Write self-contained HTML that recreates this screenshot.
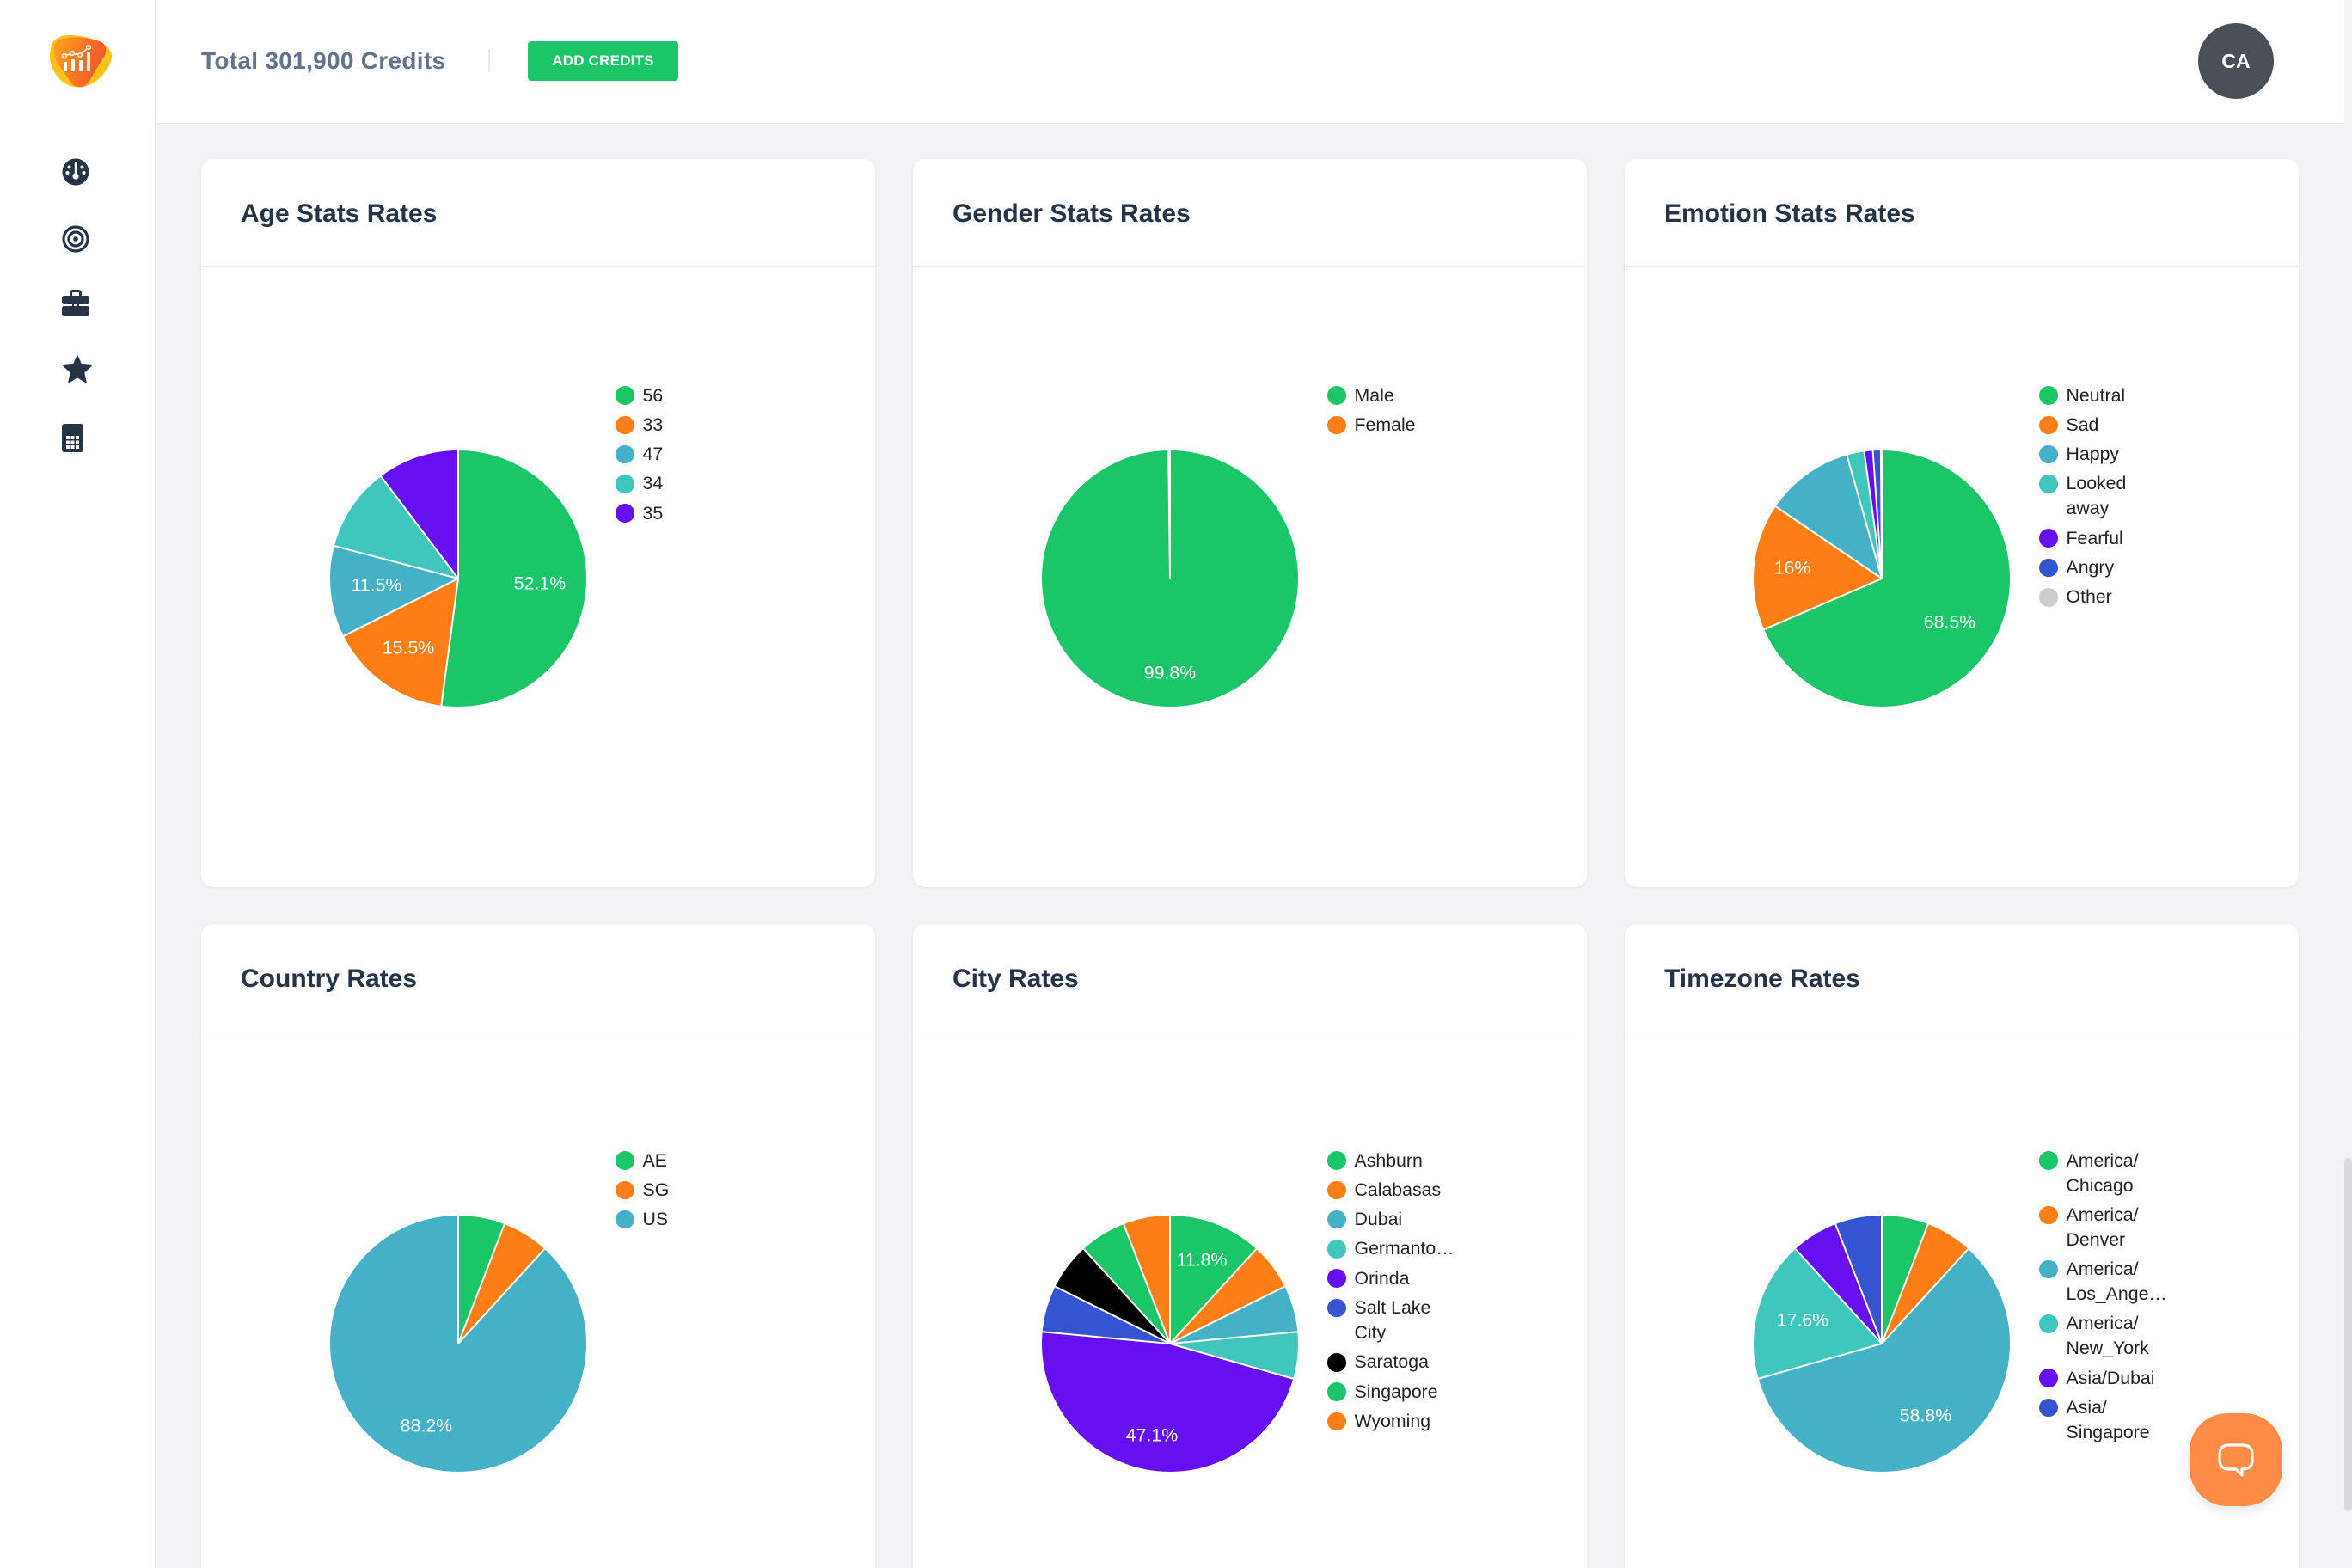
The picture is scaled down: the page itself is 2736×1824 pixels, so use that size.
<!DOCTYPE html>
<html><head><meta charset="utf-8">
<style>
*{margin:0;padding:0;box-sizing:border-box}
html,body{width:2736px;height:1824px;overflow:hidden;background:#f2f3f5;font-family:"Liberation Sans",Arial,sans-serif}
#root{position:relative;width:2736px;height:1824px;overflow:hidden;background:#f2f3f5}
#header{position:absolute;left:0;top:0;width:2727px;height:144px;background:#fff;border-bottom:1px solid #e3e5e8}
#sidebar{position:absolute;left:0;top:0;width:181px;height:1824px;background:#fff;border-right:1px solid #e6e7ea;z-index:2}
.credits{position:absolute;left:234px;top:56px;font-size:28px;line-height:30px;font-weight:bold;color:#64728a;letter-spacing:0.3px;white-space:nowrap}
.vdiv{position:absolute;left:568px;top:57px;width:2px;height:27px;background:#e6e8ec}
.btn{position:absolute;left:614px;top:48px;width:175px;height:46px;background:#1bc668;border-radius:4px;color:#fff;font-weight:bold;font-size:17px;line-height:46px;text-align:center;letter-spacing:0.2px}
.avatar{position:absolute;left:2557px;top:27px;width:88px;height:88px;border-radius:50%;background:#4a4f57;color:#fff;font-weight:bold;font-size:23px;line-height:88px;text-align:center}
.card{position:absolute;width:784px;background:#fff;border-radius:14px;box-shadow:0 1px 3px rgba(0,0,0,.07)}
.card h2{position:absolute;left:46px;top:49px;font-size:30px;line-height:30px;font-weight:bold;color:#263445;white-space:nowrap}
.card .hd{position:absolute;left:0;right:0;top:125px;height:1px;background:#e9ebee}
.pie{position:absolute;left:150px;top:339px;width:298px;height:298px;border-radius:50%}
.sep{position:absolute;left:148px;top:0;width:2px;height:149px;background:#fff;transform-origin:50% 100%}
.lbl{position:absolute;color:#fff;font-size:21.3px;line-height:1;transform:translate(-50%,-50%);white-space:nowrap}
.legend{position:absolute;left:482px;top:260.5px}
.li{display:flex;margin-bottom:5.3px}
.dot{width:21.5px;height:21.5px;border-radius:50%;margin-top:3.75px;flex:none}
.lt{margin-left:10px;font-size:21.3px;line-height:29px;color:#222;white-space:nowrap}
.help{position:absolute;left:2547px;top:1644px;width:108px;height:108px;border-radius:44px;background:#fe8c46;box-shadow:0 4px 14px rgba(0,0,0,.12)}
.scroll{position:absolute;left:2727px;top:1347px;width:9px;height:411px;border-radius:5px;background:#d9dadd}
</style></head>
<body>
<div id="root">
<div id="header">
  <div class="credits">Total 301,900 Credits</div>
  <div class="vdiv"></div>
  <div class="btn">ADD CREDITS</div>
  <div class="avatar">CA</div>
</div>
<div id="sidebar">
  <svg style="position:absolute;left:52px;top:38px" width="82" height="66" viewBox="0 0 82 66">
    <defs>
      <linearGradient id="lg" x1="0" y1="0" x2="1" y2="0.3">
        <stop offset="0" stop-color="#ffa41b"/><stop offset="1" stop-color="#f0582a"/>
      </linearGradient>
    </defs>
    <path d="M8 14 Q14 2 32 3 Q60 5 74 18 Q82 26 74 40 Q62 60 44 63 Q26 66 14 50 Q2 34 8 14 Z" fill="#ffc21a"/>
    <path d="M16 8 Q40 2 64 10 Q74 14 70 26 L52 56 Q44 68 32 60 L14 34 Q6 16 16 8 Z" fill="url(#lg)"/>
    <g fill="#fff">
      <rect x="22" y="34" width="4" height="11"/>
      <rect x="31" y="31" width="4" height="14"/>
      <rect x="40" y="32" width="4" height="13"/>
      <rect x="49" y="23" width="4" height="22"/>
    </g>
    <polyline points="23,27 32,24 41,26 51,17" fill="none" stroke="#fff" stroke-width="1.6"/>
    <g fill="#f7922a" stroke="#fff" stroke-width="1.4">
      <circle cx="23" cy="27" r="2.3"/><circle cx="32" cy="24" r="2.3"/><circle cx="41" cy="26" r="2.3"/><circle cx="51" cy="17" r="2.3"/>
    </g>
  </svg>
  <svg style="position:absolute;left:72px;top:184px" width="32" height="32" viewBox="0 0 32 32">
    <circle cx="16" cy="16" r="15.5" fill="#263445"/>
    <rect x="14.8" y="4" width="2.4" height="15" fill="#fff"/>
    <circle cx="16" cy="21" r="3.6" fill="#fff"/>
    <circle cx="8.5" cy="10.5" r="2" fill="#fff"/><circle cx="23.5" cy="10.5" r="2" fill="#fff"/>
    <circle cx="6.5" cy="17" r="2" fill="#fff"/><circle cx="25.5" cy="17" r="2" fill="#fff"/>
  </svg>
  <svg style="position:absolute;left:72px;top:262px" width="32" height="32" viewBox="0 0 32 32">
    <circle cx="16" cy="16" r="14" fill="none" stroke="#263445" stroke-width="3.2"/>
    <circle cx="16" cy="16" r="8" fill="none" stroke="#263445" stroke-width="3.2"/>
    <circle cx="16" cy="16" r="2.8" fill="#263445"/>
  </svg>
  <svg style="position:absolute;left:72px;top:337px" width="32" height="32" viewBox="0 0 32 32">
    <rect x="10.5" y="1.5" width="11" height="7" rx="2" fill="none" stroke="#263445" stroke-width="3"/>
    <rect x="0" y="7" width="32" height="10" rx="2.5" fill="#263445"/>
    <rect x="0" y="19" width="32" height="12" rx="2.5" fill="#263445"/>
    <rect x="12" y="15" width="8" height="6" fill="#263445"/>
    <rect x="14" y="17" width="4" height="2" fill="#fff"/>
  </svg>
  <svg style="position:absolute;left:73px;top:413px" width="34" height="34" viewBox="0 0 34 34">
    <polygon points="17,1 21.6,11.6 33,12.6 24.4,20.2 27,31.6 17,25.6 7,31.6 9.6,20.2 1,12.6 12.4,11.6" fill="#263445" stroke="#263445" stroke-width="1.5" stroke-linejoin="round"/>
  </svg>
  <svg style="position:absolute;left:72px;top:493px" width="25" height="33" viewBox="0 0 25 33">
    <rect x="0" y="0" width="25" height="33" rx="3" fill="#263445"/>
    <g fill="#fff">
      <rect x="5" y="14" width="4" height="4"/><rect x="10.5" y="14" width="4" height="4"/><rect x="16" y="14" width="4" height="4"/>
      <rect x="5" y="19.5" width="4" height="4"/><rect x="10.5" y="19.5" width="4" height="4"/><rect x="16" y="19.5" width="4" height="4"/>
      <rect x="5" y="25" width="4" height="4"/><rect x="10.5" y="25" width="4" height="4"/><rect x="16" y="25" width="4" height="4"/>
    </g>
  </svg>
</div>

<div class="card" style="left:234px;top:185px;height:847px">
  <h2>Age Stats Rates</h2><div class="hd"></div>
  <div class="pie" style="background:conic-gradient(#1bc668 0 52.1%,#fd7e16 0 67.6%,#44b1c6 0 79.1%,#3fc7bd 0 89.7%,#6610f2 0)">
    <div class="sep" style="transform:rotate(0deg)"></div>
    <div class="sep" style="transform:rotate(187.56deg)"></div>
    <div class="sep" style="transform:rotate(243.36deg)"></div>
    <div class="sep" style="transform:rotate(284.76deg)"></div>
    <div class="sep" style="transform:rotate(322.9deg)"></div>
  </div>
  <div class="lbl" style="left:394px;top:494px">52.1%</div>
  <div class="lbl" style="left:241px;top:569px">15.5%</div>
  <div class="lbl" style="left:204px;top:496px">11.5%</div>
  <div class="legend">
    <div class="li"><div class="dot" style="background:#1bc668"></div><div class="lt">56</div></div>
    <div class="li"><div class="dot" style="background:#fd7e16"></div><div class="lt">33</div></div>
    <div class="li"><div class="dot" style="background:#44b1c6"></div><div class="lt">47</div></div>
    <div class="li"><div class="dot" style="background:#3fc7bd"></div><div class="lt">34</div></div>
    <div class="li"><div class="dot" style="background:#6610f2"></div><div class="lt">35</div></div>
  </div>
</div>

<div class="card" style="left:1062px;top:185px;height:847px">
  <h2>Gender Stats Rates</h2><div class="hd"></div>
  <div class="pie" style="background:conic-gradient(#1bc668 0 99.8%,#fd7e16 0)">
    <div class="sep" style="transform:rotate(0deg)"></div>
    <div class="sep" style="transform:rotate(359.3deg)"></div>
  </div>
  <div class="lbl" style="left:299px;top:598px">99.8%</div>
  <div class="legend">
    <div class="li"><div class="dot" style="background:#1bc668"></div><div class="lt">Male</div></div>
    <div class="li"><div class="dot" style="background:#fd7e16"></div><div class="lt">Female</div></div>
  </div>
</div>

<div class="card" style="left:1890px;top:185px;height:847px">
  <h2>Emotion Stats Rates</h2><div class="hd"></div>
  <div class="pie" style="background:conic-gradient(#1bc668 0 68.5%,#fd7e16 0 84.5%,#44b1c6 0 95.6%,#3fc7bd 0 97.8%,#6610f2 0 98.9%,#3555d0 0 99.9%,#cccccc 0)">
    <div class="sep" style="transform:rotate(0deg)"></div>
    <div class="sep" style="transform:rotate(246.6deg)"></div>
    <div class="sep" style="transform:rotate(304.2deg)"></div>
    <div class="sep" style="transform:rotate(344.2deg)"></div>
    <div class="sep" style="transform:rotate(352.1deg)"></div>
    <div class="sep" style="transform:rotate(356deg)"></div>
    <div class="sep" style="transform:rotate(359.6deg)"></div>
  </div>
  <div class="lbl" style="left:195px;top:476px">16%</div>
  <div class="lbl" style="left:378px;top:539px">68.5%</div>
  <div class="legend">
    <div class="li"><div class="dot" style="background:#1bc668"></div><div class="lt">Neutral</div></div>
    <div class="li"><div class="dot" style="background:#fd7e16"></div><div class="lt">Sad</div></div>
    <div class="li"><div class="dot" style="background:#44b1c6"></div><div class="lt">Happy</div></div>
    <div class="li"><div class="dot" style="background:#3fc7bd"></div><div class="lt">Looked<br>away</div></div>
    <div class="li"><div class="dot" style="background:#6610f2"></div><div class="lt">Fearful</div></div>
    <div class="li"><div class="dot" style="background:#3555d0"></div><div class="lt">Angry</div></div>
    <div class="li"><div class="dot" style="background:#cccccc"></div><div class="lt">Other</div></div>
  </div>
</div>

<div class="card" style="left:234px;top:1075px;height:780px">
  <h2>Country Rates</h2><div class="hd"></div>
  <div class="pie" style="background:conic-gradient(#1bc668 0 5.88%,#fd7e16 0 11.76%,#44b1c6 0)">
    <div class="sep" style="transform:rotate(0deg)"></div>
    <div class="sep" style="transform:rotate(21.18deg)"></div>
    <div class="sep" style="transform:rotate(42.35deg)"></div>
  </div>
  <div class="lbl" style="left:262px;top:584px">88.2%</div>
  <div class="legend">
    <div class="li"><div class="dot" style="background:#1bc668"></div><div class="lt">AE</div></div>
    <div class="li"><div class="dot" style="background:#fd7e16"></div><div class="lt">SG</div></div>
    <div class="li"><div class="dot" style="background:#44b1c6"></div><div class="lt">US</div></div>
  </div>
</div>

<div class="card" style="left:1062px;top:1075px;height:780px">
  <h2>City Rates</h2><div class="hd"></div>
  <div class="pie" style="background:conic-gradient(#1bc668 0 11.76%,#fd7e16 0 17.65%,#44b1c6 0 23.53%,#3fc7bd 0 29.41%,#6610f2 0 76.47%,#3555d0 0 82.35%,#000000 0 88.24%,#1bc668 0 94.12%,#fd7e16 0)">
    <div class="sep" style="transform:rotate(0deg)"></div>
    <div class="sep" style="transform:rotate(42.35deg)"></div>
    <div class="sep" style="transform:rotate(63.53deg)"></div>
    <div class="sep" style="transform:rotate(84.71deg)"></div>
    <div class="sep" style="transform:rotate(105.88deg)"></div>
    <div class="sep" style="transform:rotate(275.29deg)"></div>
    <div class="sep" style="transform:rotate(296.47deg)"></div>
    <div class="sep" style="transform:rotate(317.65deg)"></div>
    <div class="sep" style="transform:rotate(338.82deg)"></div>
  </div>
  <div class="lbl" style="left:336px;top:391px">11.8%</div>
  <div class="lbl" style="left:278px;top:595px">47.1%</div>
  <div class="legend">
    <div class="li"><div class="dot" style="background:#1bc668"></div><div class="lt">Ashburn</div></div>
    <div class="li"><div class="dot" style="background:#fd7e16"></div><div class="lt">Calabasas</div></div>
    <div class="li"><div class="dot" style="background:#44b1c6"></div><div class="lt">Dubai</div></div>
    <div class="li"><div class="dot" style="background:#3fc7bd"></div><div class="lt">Germanto…</div></div>
    <div class="li"><div class="dot" style="background:#6610f2"></div><div class="lt">Orinda</div></div>
    <div class="li"><div class="dot" style="background:#3555d0"></div><div class="lt">Salt Lake<br>City</div></div>
    <div class="li"><div class="dot" style="background:#000000"></div><div class="lt">Saratoga</div></div>
    <div class="li"><div class="dot" style="background:#1bc668"></div><div class="lt">Singapore</div></div>
    <div class="li"><div class="dot" style="background:#fd7e16"></div><div class="lt">Wyoming</div></div>
  </div>
</div>

<div class="card" style="left:1890px;top:1075px;height:780px">
  <h2>Timezone Rates</h2><div class="hd"></div>
  <div class="pie" style="background:conic-gradient(#1bc668 0 5.88%,#fd7e16 0 11.76%,#44b1c6 0 70.59%,#3fc7bd 0 88.24%,#6610f2 0 94.12%,#3555d0 0)">
    <div class="sep" style="transform:rotate(0deg)"></div>
    <div class="sep" style="transform:rotate(21.18deg)"></div>
    <div class="sep" style="transform:rotate(42.35deg)"></div>
    <div class="sep" style="transform:rotate(254.12deg)"></div>
    <div class="sep" style="transform:rotate(317.65deg)"></div>
    <div class="sep" style="transform:rotate(338.82deg)"></div>
  </div>
  <div class="lbl" style="left:207px;top:461px">17.6%</div>
  <div class="lbl" style="left:350px;top:572px">58.8%</div>
  <div class="legend">
    <div class="li"><div class="dot" style="background:#1bc668"></div><div class="lt">America/<br>Chicago</div></div>
    <div class="li"><div class="dot" style="background:#fd7e16"></div><div class="lt">America/<br>Denver</div></div>
    <div class="li"><div class="dot" style="background:#44b1c6"></div><div class="lt">America/<br>Los_Ange…</div></div>
    <div class="li"><div class="dot" style="background:#3fc7bd"></div><div class="lt">America/<br>New_York</div></div>
    <div class="li"><div class="dot" style="background:#6610f2"></div><div class="lt">Asia/Dubai</div></div>
    <div class="li"><div class="dot" style="background:#3555d0"></div><div class="lt">Asia/<br>Singapore</div></div>
  </div>
</div>

<div class="help">
  <svg style="position:absolute;left:31px;top:33px" width="46" height="44" viewBox="0 0 46 44">
    <path d="M15 4 H31 Q42 4 42 15 V21 Q42 32 31 32 H30 L30 39 L23 32 H15 Q4 32 4 21 V15 Q4 4 15 4 Z" fill="none" stroke="#fff" stroke-width="3.2" stroke-linejoin="round"/>
  </svg>
</div>
<div class="scroll"></div>
</div>
</body></html>
